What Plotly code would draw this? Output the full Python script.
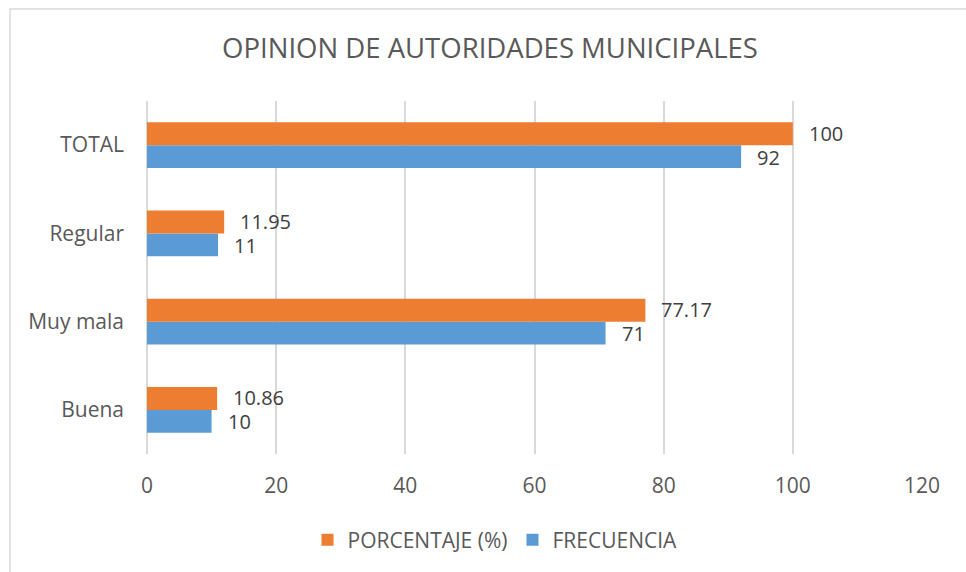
import plotly.graph_objects as go

categories = ["Buena", "Muy mala", "Regular", "TOTAL"]
frecuencia = [10, 71, 11, 92]
porcentaje = [10.86, 77.17, 11.95, 100]
frec_labels = ["10", "71", "11", "92"]
porc_labels = ["10.86", "77.17", "11.95", "100"]
x_ticks = [0, 20, 40, 60, 80, 100, 120]

ORANGE = "#ED7D31"
BLUE = "#5B9BD5"
TXT = "#595959"
FONT = "Open Sans"

fig = go.Figure()
fig.add_trace(go.Bar(y=categories, x=frecuencia, orientation="h", name="FRECUENCIA",
                     marker=dict(color=BLUE, line=dict(width=0))))
fig.add_trace(go.Bar(y=categories, x=porcentaje, orientation="h", name="PORCENTAJE (%)",
                     marker=dict(color=ORANGE, line=dict(width=0))))

annotations = []
for c, v, t in zip(categories, frecuencia, frec_labels):
    annotations.append(dict(x=v, y=c, text=t, xanchor="left", yanchor="middle", showarrow=False,
                            xshift=15, yshift=-12, borderpad=0,
                            font=dict(family=FONT, size=20, color="#404040")))
for c, v, t in zip(categories, porcentaje, porc_labels):
    annotations.append(dict(x=v, y=c, text=t, xanchor="left", yanchor="middle", showarrow=False,
                            xshift=15, yshift=12, borderpad=0,
                            font=dict(family=FONT, size=20, color="#404040")))

L, R, T, B = 147, 44, 101, 118
W, H = 966, 572
pw, ph = W - L - R, H - T - B

fig.update_layout(
    width=W, height=H,
    margin=dict(l=L, r=R, t=T, b=B),
    paper_bgcolor="white", plot_bgcolor="white",
    barmode="group", bargap=0.479, bargroupgap=0,
    font=dict(family=FONT, color=TXT, size=21),
    title=dict(text="OPINION DE AUTORIDADES MUNICIPALES", x=490 / W, xanchor="center",
               y=1 - 48 / H, yanchor="middle", font=dict(family=FONT, size=27.5, color=TXT)),
    xaxis=dict(range=[0, 120], tickvals=x_ticks, showgrid=True, gridcolor="#D9D9D9", gridwidth=1.5,
               zeroline=True, zerolinecolor="#D9D9D9", zerolinewidth=1.5, showline=False,
               ticks="", ticklabelstandoff=17, tickfont=dict(size=21, color=TXT)),
    yaxis=dict(range=[-0.5, 3.5], showgrid=False, zeroline=False, showline=False, ticks="",
               ticklabelstandoff=22, tickfont=dict(size=21, color=TXT)),
    legend=dict(orientation="h", x=(495 - L) / pw, xanchor="center", y=(454 - 540) / ph,
                yanchor="middle", traceorder="reversed", font=dict(size=21, color=TXT),
                itemwidth=30),
    annotations=annotations,
    showlegend=True,
)

fig.add_shape(type="rect", xref="paper", yref="paper",
              x0=(10 - L) / pw, x1=1.2, y0=-0.6, y1=(454 - 9) / ph,
              line=dict(color="#D9D9D9", width=1.5), fillcolor="rgba(0,0,0,0)", layer="below")

fig.write_html("out.html", config={"displayModeBar": False},
               post_script="document.body.style.margin='0';document.body.style.padding='0';"
                           "document.body.style.overflow='hidden';")
